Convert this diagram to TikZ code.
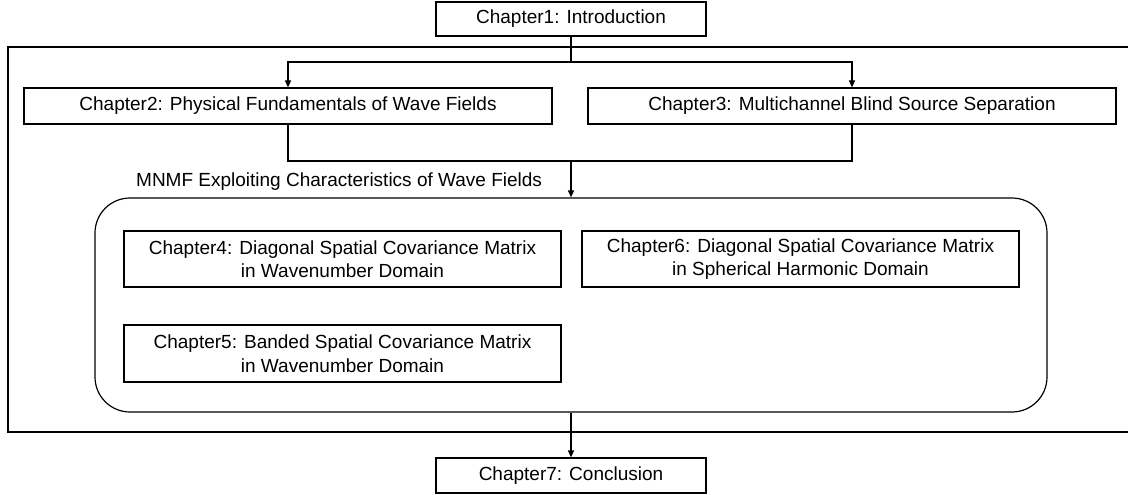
\documentclass[tikz,border=0pt]{standalone}
\usepackage{fontspec}
\setmainfont{Liberation Sans}
\usetikzlibrary{arrows.meta}

\tikzset{
  chap/.style={draw, line width=1.2pt, align=center, inner sep=0pt,
               font=\fontsize{19}{23.5}\selectfont},
  grp/.style={draw, line width=1.2pt, rounded corners=35pt, inner sep=0pt},
  link/.style={line width=1.2pt},
  arr/.style={link, -{Triangle[length=7pt, width=6pt]}}
}

\begin{document}
\begin{tikzpicture}[x=1pt, y=-1pt, line join=miter]

  %% ════ outer frame (open to the right) ════
  \draw[link] (1130,47) -- (8,47) -- (8,432) -- (1130,432);

  %% ════ chapters ════
  \node[chap, minimum width=270pt, minimum height=34pt] (ch1) at (571,19) {Chapter1: Introduction};
  \node[chap, minimum width=528pt, minimum height=36pt] (ch2) at (288,106) {Chapter2: Physical Fundamentals of Wave Fields};
  \node[chap, minimum width=528pt, minimum height=36pt] (ch3) at (852,106) {Chapter3: Multichannel Blind Source Separation};

  \node[grp, minimum width=952pt, minimum height=214pt] (mnmf) at (571,305) {};
  \node[anchor=west, inner sep=0pt, font=\fontsize{19}{23.5}\selectfont] (mnmflbl) at (136,182) {MNMF Exploiting Characteristics of Wave Fields};

  \node[chap, minimum width=437pt, minimum height=56pt] (ch4) at (342.5,259) {Chapter4: Diagonal Spatial Covariance Matrix\\in Wavenumber Domain};
  \node[chap, minimum width=437pt, minimum height=57pt] (ch5) at (342.5,353.5) {Chapter5: Banded Spatial Covariance Matrix\\in Wavenumber Domain};
  \node[chap, minimum width=437pt, minimum height=56pt] (ch6) at (800.5,259) {Chapter6: Diagonal Spatial Covariance Matrix\\in Spherical Harmonic Domain};

  \node[chap, minimum width=270pt, minimum height=35pt] (ch7) at (571,475.5) {Chapter7: Conclusion};

  %% ════ connectors ════
  \coordinate (split) at (571,62);
  \coordinate (join) at (571,161);
  \draw[link] (ch1.south) -- (split);
  \draw[arr] (split) -| (ch2.north);
  \draw[arr] (split) -| (ch3.north);
  \draw[link] (ch2.south) |- (join);
  \draw[link] (ch3.south) |- (join);
  \draw[arr] (join) -- (mnmf.north);
  \draw[arr] (mnmf.south) -- (ch7.north);

  % fix the canvas
  \pgfresetboundingbox
  \path[use as bounding box] (0,0) rectangle (1128,495);
\end{tikzpicture}
\end{document}
